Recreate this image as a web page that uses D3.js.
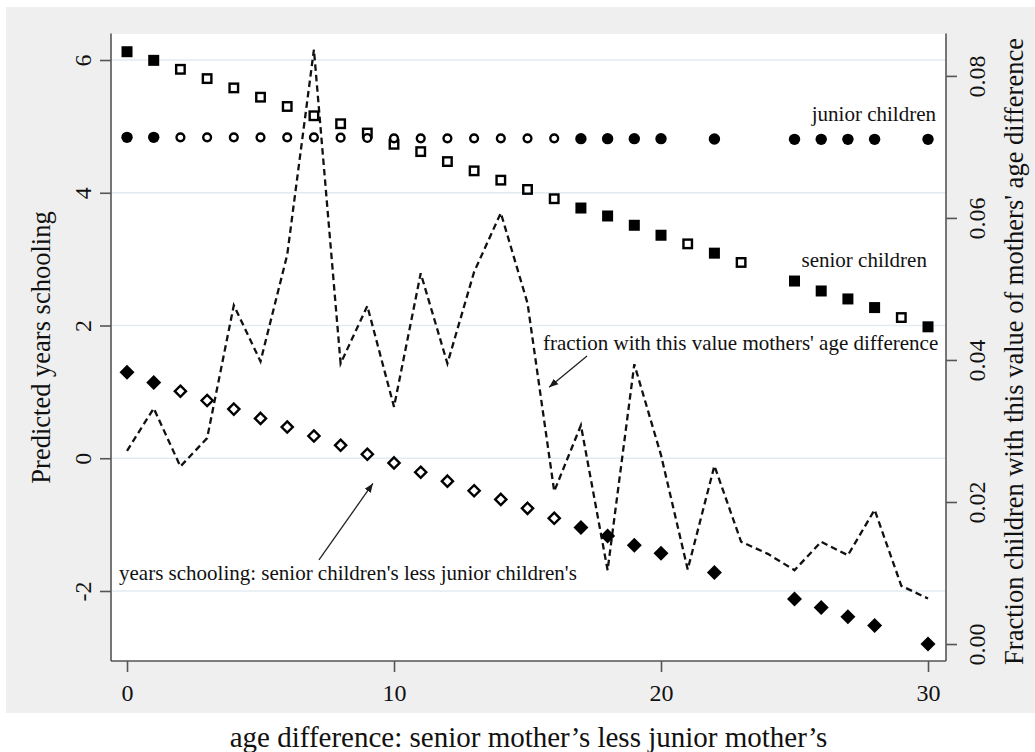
<!doctype html>
<meta charset="utf-8">
<body style="margin:0;background:#fff">

<div id="chart"></div>

<script src="https://d3js.org/d3.v7.min.js"></script>
<script>

// age difference: senior mother's less junior mother's
const ages = [0, 1, 2, 3, 4, 5, 6, 7, 8, 9, 10, 11, 12, 13, 14, 15, 16, 17, 18, 19, 20, 21, 22, 23, 24, 25, 26, 27, 28, 29, 30]

// predicted years schooling (null = not shown)
const seniorYrs = [6.125, 5.995, 5.86, 5.72, 5.58, 5.44, 5.30, 5.16, 5.04, 4.90, 4.73, 4.62, 4.47, 4.33, 4.19, 4.05, 3.91, 3.77, 3.65, 3.51, 3.36, 3.23, 3.09, 2.95, null, 2.67, 2.52, 2.40, 2.27, 2.12, 1.98]
const juniorYrs = [4.835, 4.835, 4.835, 4.835, 4.835, 4.835, 4.835, 4.835, 4.83, 4.825, 4.82, 4.82, 4.82, 4.82, 4.82, 4.82, 4.82, 4.815, 4.815, 4.815, 4.815, null, 4.81, null, null, 4.805, 4.805, 4.805, 4.805, null, 4.805]
const diffYrs = [1.295, 1.14, 1.01, 0.87, 0.74, 0.60, 0.47, 0.335, 0.195, 0.06, -0.07, -0.21, -0.345, -0.49, -0.62, -0.755, -0.905, -1.045, -1.17, -1.31, -1.43, null, -1.72, null, null, -2.12, -2.25, -2.39, -2.52, null, -2.80]

// filled marker = significant
const filledAges = [0, 1, 17, 18, 19, 20, 22, 25, 26, 27, 28, 30]

// fraction of children with this value of mothers' age difference
const fraction = [0.0272, 0.0332, 0.0250, 0.0290, 0.0477, 0.0398, 0.0548, 0.0837, 0.0395, 0.0476, 0.0334, 0.0522, 0.0395, 0.0524, 0.0607, 0.0480, 0.0215, 0.0308, 0.0104, 0.0394, 0.0266, 0.0105, 0.0251, 0.0144, 0.0127, 0.0104, 0.0144, 0.0125, 0.0189, 0.0082, 0.0064]

const xTicks = [0, 10, 20, 30]
const yTicks = [-2, 0, 2, 4, 6]
const y2Ticks = [0, 0.02, 0.04, 0.06, 0.08]

const serif = "'Liberation Serif', 'Times New Roman', serif"

function main () {
  const W = 1035, H = 752
  const plot = { left: 111, right: 946, top: 34, bottom: 661 }

  const svg = d3.select("#chart").append("svg")
    .attr("width", W)
    .attr("height", H)
    .style("display", "block")

  svg.append("defs").append("marker")
    .attr("id", "arr")
    .attr("viewBox", "0 0 10 10")
    .attr("refX", 10).attr("refY", 5)
    .attr("markerWidth", 9).attr("markerHeight", 9)
    .attr("markerUnits", "userSpaceOnUse")
    .attr("orient", "auto")
    .append("path")
    .attr("d", "M0,1 L10,5 L0,9 Z")
    .attr("fill", "#1a1a1a")

  // outer gray background and white plot region
  svg.append("rect").attr("x", 6).attr("y", 7).attr("width", W - 6).attr("height", 706).attr("fill", "#efefef")
  svg.append("rect").attr("x", plot.left).attr("y", plot.top)
    .attr("width", plot.right - plot.left).attr("height", plot.bottom - plot.top).attr("fill", "#fff")

  const x = d3.scaleLinear().domain([-0.6, 30.674]).range([plot.left, plot.right])
  const y = d3.scaleLinear().domain([-3.055, 6.392]).range([plot.bottom, plot.top])
  const y2 = d3.scaleLinear().domain([-0.00239, 0.0859]).range([plot.bottom, plot.top])

  // grid
  svg.append("g").selectAll("line").data(yTicks).enter().append("line")
    .attr("x1", plot.left).attr("x2", plot.right)
    .attr("y1", d => y(d)).attr("y2", d => y(d))
    .attr("stroke", "#e2ecf0").attr("stroke-width", 1.6)

  // fraction line (right axis)
  const line = d3.line().x((d, i) => x(ages[i])).y(d => y2(d))
  svg.append("path")
    .datum(fraction)
    .attr("d", line)
    .attr("fill", "none")
    .attr("stroke", "#111")
    .attr("stroke-width", 2.3)
    .attr("stroke-dasharray", "6.5,4")

  const isFilled = a => filledAges.includes(a)
  const pts = arr => ages.map((a, i) => ({ a, v: arr[i] })).filter(d => d.v !== null)

  // senior children: squares
  svg.append("g").selectAll("rect").data(pts(seniorYrs)).enter().append("rect")
    .each(function (d) {
      const f = isFilled(d.a)
      const s = f ? 11 : 8.5
      d3.select(this)
        .attr("x", x(d.a) - s / 2).attr("y", y(d.v) - s / 2)
        .attr("width", s).attr("height", s)
        .attr("fill", f ? "#000" : "#fff")
        .attr("stroke", "#000").attr("stroke-width", f ? 0 : 2.4)
    })

  // junior children: circles
  svg.append("g").selectAll("circle").data(pts(juniorYrs)).enter().append("circle")
    .attr("cx", d => x(d.a)).attr("cy", d => y(d.v))
    .attr("r", d => isFilled(d.a) ? 5.7 : 3.9)
    .attr("fill", d => isFilled(d.a) ? "#000" : "#fff")
    .attr("stroke", "#000")
    .attr("stroke-width", d => isFilled(d.a) ? 0 : 2.4)

  // difference: diamonds
  svg.append("g").selectAll("path").data(pts(diffYrs)).enter().append("path")
    .attr("d", d => {
      const r = isFilled(d.a) ? 7.5 : 5.6
      const cx = x(d.a), cy = y(d.v)
      return `M${cx},${cy - r}L${cx + r},${cy}L${cx},${cy + r}L${cx - r},${cy}Z`
    })
    .attr("fill", d => isFilled(d.a) ? "#000" : "#fff")
    .attr("stroke", "#000")
    .attr("stroke-width", d => isFilled(d.a) ? 0 : 2.4)

  // axes
  const axisColor = "#555"
  const tickFont = 24

  const gx = svg.append("g")
    .attr("transform", `translate(0,${plot.bottom})`)
    .call(d3.axisBottom(x).tickValues(xTicks).tickSize(11).tickPadding(12).tickSizeOuter(0))
  const gy = svg.append("g")
    .attr("transform", `translate(${plot.left},0)`)
    .call(d3.axisLeft(y).tickValues(yTicks).tickFormat(d => String(d)).tickSize(11).tickSizeOuter(0))
  const gy2 = svg.append("g")
    .attr("transform", `translate(${plot.right},0)`)
    .call(d3.axisRight(y2).tickValues(y2Ticks).tickFormat(d => d.toFixed(2)).tickSize(11).tickSizeOuter(0))

  for (const g of [gx, gy, gy2]) {
    g.select(".domain").attr("stroke", axisColor).attr("stroke-width", 1.6)
    g.selectAll(".tick line").attr("stroke", axisColor).attr("stroke-width", 1.6)
    g.selectAll("text").attr("font-family", serif).attr("font-size", tickFont).attr("fill", "#111")
  }
  gx.select(".domain").attr("d", `M${plot.left},0H${plot.right}`)
  gy.select(".domain").attr("d", `M0,${plot.top - 0.5}V${plot.bottom}`)
  gy2.select(".domain").attr("d", `M0,${plot.top - 0.5}V${plot.bottom}`)

  gy.selectAll(".tick text")
    .attr("x", null).attr("dy", "0.35em")
    .attr("text-anchor", "middle")
    .attr("transform", "translate(-28,0) rotate(-90)")
  gy2.selectAll(".tick text")
    .attr("x", null).attr("dy", "0.35em")
    .attr("text-anchor", "middle")
    .attr("transform", "translate(31,0) rotate(-90)")

  // axis titles
  const midY = (plot.top + plot.bottom) / 2
  svg.append("text")
    .attr("transform", `translate(50,${midY}) rotate(-90)`)
    .attr("text-anchor", "middle")
    .attr("font-family", serif).attr("font-size", 26.5).attr("fill", "#111")
    .text("Predicted years schooling")
  svg.append("text")
    .attr("transform", `translate(1023,${midY + 4}) rotate(-90)`)
    .attr("text-anchor", "middle")
    .attr("font-family", serif).attr("font-size", 26.5).attr("fill", "#111")
    .text("Fraction children with this value of mothers' age difference")
  svg.append("text")
    .attr("x", (plot.left + plot.right) / 2).attr("y", 747)
    .attr("text-anchor", "middle")
    .attr("font-family", serif).attr("font-size", 29).attr("fill", "#111")
    .text("age difference: senior mother\u2019s less junior mother\u2019s")

  // annotations
  const note = (ax, ay, anchor, txt) => svg.append("text")
    .attr("x", x(ax)).attr("y", y(ay))
    .attr("text-anchor", anchor)
    .attr("font-family", serif).attr("font-size", 21).attr("fill", "#111")
    .text(txt)

  note(30.3, 5.08, "end", "junior children")
  note(29.96, 2.88, "end", "senior children")
  note(15.58, 1.63, "start", "fraction with this value mothers' age difference")
  note(-0.30, -1.83, "start", "years schooling: senior children's less junior children's")

  const arrow = (x1, y1, x2, y2v) => svg.append("line")
    .attr("x1", x(x1)).attr("y1", y(y1))
    .attr("x2", x(x2)).attr("y2", y(y2v))
    .attr("stroke", "#222").attr("stroke-width", 1.3)
    .attr("marker-end", "url(#arr)")

  arrow(17.23, 1.54, 15.81, 1.07)
  arrow(7.19, -1.53, 9.21, -0.38)
}

main()

</script>
</body>
